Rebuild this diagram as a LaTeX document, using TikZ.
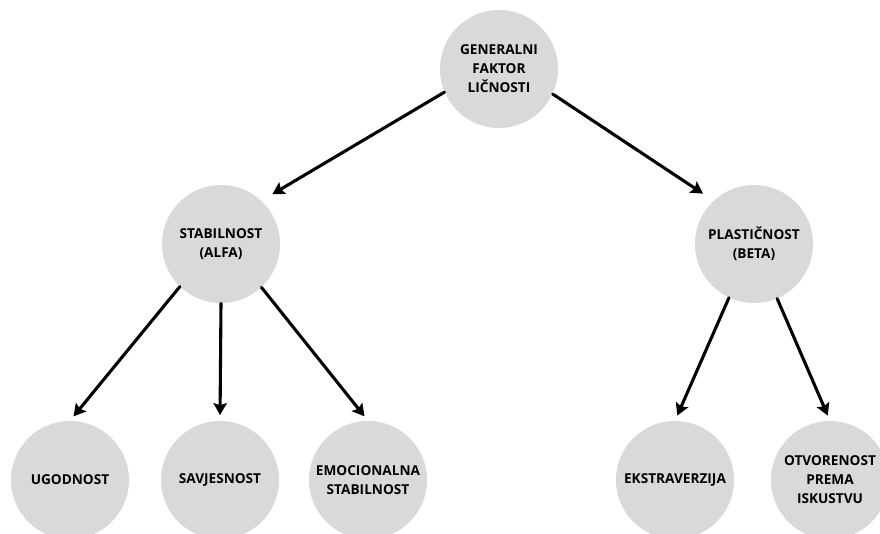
\documentclass[tikz,border=0pt]{standalone}
\usepackage{fontspec}
\setmainfont{Open Sans}
\usetikzlibrary{arrows.meta}
\definecolor{krugsiva}{HTML}{D9D9D9}
\begin{document}
\begin{tikzpicture}[x=0.025cm, y=-0.025cm, font=\bfseries\fontsize{9.7}{13.5}\selectfont, line join=round, line cap=round, >={Stealth[length=8.5pt,width=9.5pt,inset=1.5pt]},
	krug/.style={circle, fill=krugsiva, minimum size=2.95cm, inner sep=0pt, align=center},
	strelica/.style={->, line width=2.2pt, shorten >=4pt}]
	\def\rA{69}   % gornji red
	\def\rB{244}  % srednji red
	\def\rC{480}  % donji red
	\useasboundingbox (0,0) rectangle (880,533);
	% cvorovi
	\node[krug] (gen) at (499,\rA) {GENERALNI\\FAKTOR\\LIČNOSTI};
	\node[krug] (stab) at (221,\rB) {STABILNOST\\(ALFA)};
	\node[krug] (plast) at (754,\rB) {PLASTIČNOST\\(BETA)};
	\node[krug] (ugod) at (70,\rC) {UGODNOST};
	\node[krug] (savj) at (220,\rC) {SAVJESNOST};
	\node[krug] (emoc) at (368,\rC) {EMOCIONALNA\\STABILNOST};
	\node[krug] (ekst) at (675,\rC) {EKSTRAVERZIJA};
	\node[krug] (otvo) at (830,\rC) {OTVORENOST\\PREMA\\ISKUSTVU};
	% strelice
	\draw[strelica, shorten >=9pt] (gen.203) -- (stab.47);
	\draw[strelica, shorten >=9pt] (gen.335) -- (plast.133);
	\draw[strelica] (stab.226) -- (ugod.north);
	\draw[strelica] (stab.south) -- (savj.north);
	\draw[strelica] (stab.313) -- (emoc.north);
	\draw[strelica] (plast.245) -- (ekst.north);
	\draw[strelica] (plast.293) -- (otvo.north);
\end{tikzpicture}
\end{document}
